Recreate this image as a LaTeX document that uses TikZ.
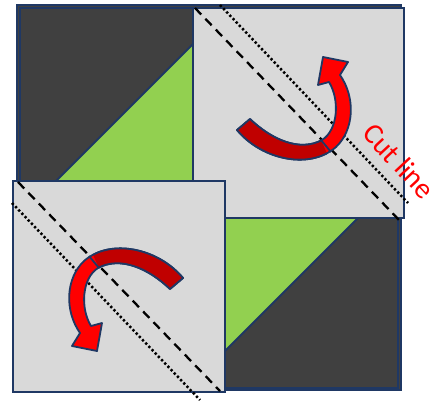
\documentclass[tikz,border=0pt]{standalone}
\usepackage{fontspec}
\setmainfont{Carlito}
\definecolor{navy}{HTML}{1F3864}
\definecolor{quiltdark}{HTML}{404040}
\definecolor{quiltgreen}{HTML}{92D050}
\definecolor{sheetgray}{HTML}{D9D9D9}
\definecolor{arrowdark}{HTML}{C00000}
\definecolor{arrowbright}{HTML}{FF0000}

\newcommand{\turnpath}{(27,-74) -- (40,-85)
  .. controls (62,-64) and (90,-52) .. (112,-64)
  .. controls (128,-74) and (130,-104) .. (119,-122)
  -- (108,-119) -- (113,-147) -- (138,-142) -- (130,-129)
  .. controls (146,-106) and (144,-74) .. (126,-57)
  .. controls (100,-34) and (52,-44) .. (27,-74) -- cycle}

\tikzset{
  turnarrow/.pic={
    \filldraw[arrowedge, fill=arrowbright] \turnpath;
    \begin{scope}
      \clip (130,-20) -- (100,-90) -- (0,-90) -- (0,-20) -- cycle;
      \filldraw[arrowedge, fill=arrowdark] \turnpath;
    \end{scope}
    \draw[arrowedge] (111,-64) -- (121,-52);
  }
}

\begin{document}
\begin{tikzpicture}[
  x=1pt, y=-1pt,
  border/.style={draw=navy, line width=2pt},
  sheet/.style={draw=navy, fill=sheetgray, line width=2pt},
  cutdash/.style={line width=2.3pt, dash pattern=on 9pt off 6pt},
  cutdot/.style={line width=2.5pt, dash pattern=on 2.3pt off 2.3pt},
  arrowedge/.style={draw=navy, line width=1.8pt, line join=round},
  cutlabel/.style={text=arrowbright, font=\fontsize{29}{31}\selectfont,
                   rotate=-47, inner sep=0pt},
]
\useasboundingbox (0,0) rectangle (438,400);

\filldraw[border, fill=quiltdark] (17,5) rectangle (401,390);
\filldraw[border, fill=quiltgreen] (20,217) -- (229,8) -- (398,8) -- (398,178)
  -- (188,388) -- (20,388) -- cycle;
\draw[border] (20,8) rectangle (398,388);

\filldraw[sheet] (193,8) rectangle (404,218);
\draw[cutdash] (195,8) -- (400,221);
\draw[cutdot] (220,5) -- (408,203);
\pic at (210,204) {turnarrow};

\filldraw[sheet] (13,181) rectangle (225,392);
\draw[cutdash] (18,182) -- (220,391);
\draw[cutdot] (12,203) -- (200,400);
\pic[rotate=180] at (210,204) {turnarrow};

\node[cutlabel] (cutlbl) at (399,161) {Cut line};

\end{tikzpicture}
\end{document}
